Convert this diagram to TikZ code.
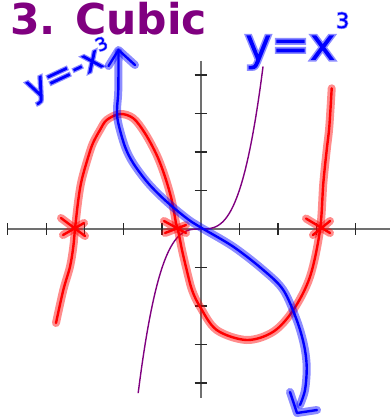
\documentclass[tikz,border=0pt]{standalone}
\usepackage{fontspec}
\setmainfont{DejaVu Sans}
\newfontfamily\hand{DejaVu Sans}[FakeBold=7]
\definecolor{titlepurple}{RGB}{128,0,128}
\definecolor{axisgray}{RGB}{112,112,112}
\definecolor{tickgray}{RGB}{40,40,40}
\definecolor{curvepurple}{RGB}{128,0,128}
\begin{document}
\begin{tikzpicture}[x=1pt,y=-1pt,
  halo/.style={line width=8pt, opacity=0.45, line cap=round, line join=round},
  core/.style={line width=2.4pt, line cap=round, line join=round},
  axisline/.style={draw=axisgray, line width=1.8pt},
  tickmark/.style={draw=tickgray, line width=1.1pt},
  lbl/.style={anchor=base west, inner sep=0pt, outer sep=0pt},
  handlbl/.style={lbl, text=blue, draw opacity=0.45}]
\useasboundingbox (0,0) rectangle (390,417);
\fill[white] (0,0) rectangle (390,417);

% title
\node[lbl, text=titlepurple, font=\fontsize{42.5}{42.5}\selectfont\bfseries] (title) at (10,35) {3. Cubic};

% axes
\draw[axisline] (8,229) -- (390,229);
\draw[axisline] (200.7,61) -- (200.7,398);
\foreach \x in {7.5,46.1,84.7,123.3,162.0,239.4,278.0,316.6,355.2}
  \draw[tickmark] (\x,223) -- (\x,235);
\foreach \y in {75,113.5,152,190.5,267.5,306,344.5,383}
  \draw[tickmark] (194.7,\y) -- (206.7,\y);

% y = x^3
\begin{scope}[shift={(200.7,229)}, x=38.6pt, y=38.6pt]
  \draw[curvepurple, line width=1.4pt, domain=-1.62:1.615, samples=90, smooth] plot (\x,{\x*\x*\x});
\end{scope}

% red cubic with stars
\foreach \s in {halo,core}{
  \draw[red,\s] plot[smooth, tension=0.55] coordinates {
    (56,323) (63.3,290) (70,266.7) (73.3,246.7) (75,229) (78.3,200) (81.7,180)
    (88.3,156.7) (93,143) (100,130) (106.7,120) (120,114) (133.3,118.3)
    (145,133.3) (156.7,155) (165,176.7) (171.7,200) (176,223) (178,230)
    (182,250) (186.7,270) (192,290) (200,306.7) (216.7,330) (246.7,340)
    (273.3,331.7) (293.3,310) (310,276.7) (320,230) (323.3,183.3)
    (326.7,150) (329.3,126.7) (331.7,88.3)};
  \draw[red,\s] (61,218) -- (85,236) (63,235) -- (84,223);
  \draw[red,\s] (164,221) -- (186,233) (165,233) -- (186,225);
  \draw[red,\s] (306,218.5) -- (330,233) (313,235) -- (330,221);
}

% blue y = -x^3 sketch
\foreach \s in {halo,core}{
  \draw[blue,\s] plot[smooth, tension=0.55] coordinates {
    (118.5,52) (118.3,90) (117,110) (118.3,123.3) (125,146.7) (133.3,163.3)
    (148.3,183.3) (166.7,201.7) (186.7,218.3) (200,227) (233.3,246.7)
    (263.3,270) (283.3,290) (296.7,320) (304,345) (306.7,366.7) (305,390) (300,405)};
  \draw[blue,\s] (108.5,66) -- (118.5,50) -- (135,65);
  \draw[blue,\s] (290,392) -- (297,413) -- (317,410);
}

% hand-written labels (fake-bold outline stroked at reduced opacity = halo)
\node[handlbl, font=\hand\fontsize{45}{45}\selectfont] (pos) at (245,60) {y=x\raisebox{32pt}{\fontsize{21}{21}\selectfont 3}};
\node[handlbl, rotate=25, font=\hand\fontsize{34}{34}\selectfont] (neg) at (32,100) {y=-x\raisebox{15pt}{\fontsize{18}{18}\selectfont 3}};
\end{tikzpicture}
\end{document}
